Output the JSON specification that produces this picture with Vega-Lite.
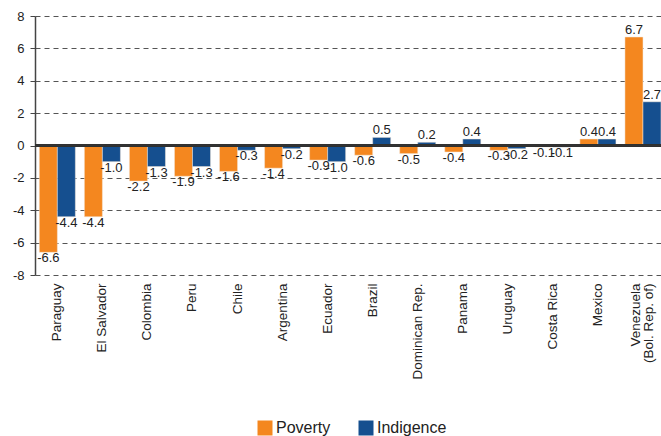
{
  "$schema": "https://vega.github.io/schema/vega-lite/v6.json",
  "width": 626,
  "height": 259,
  "autosize": "none",
  "padding": {"left": 35, "top": 16, "right": 0, "bottom": 161},
  "config": {
    "view": {"stroke": null},
    "font": "Liberation Sans",
    "locale": {"number": {"decimal": ".", "thousands": ",", "grouping": [3], "currency": ["$", ""], "minus": "-"}},
    "axis": {"labelFont": "Liberation Sans", "labelColor": "#222"}
  },
  "data": {
    "values": [
      {"country": "Paraguay", "series": "Poverty", "value": -6.6},
      {"country": "Paraguay", "series": "Indigence", "value": -4.4},
      {"country": "El Salvador", "series": "Poverty", "value": -4.4},
      {"country": "El Salvador", "series": "Indigence", "value": -1.0},
      {"country": "Colombia", "series": "Poverty", "value": -2.2},
      {"country": "Colombia", "series": "Indigence", "value": -1.3},
      {"country": "Peru", "series": "Poverty", "value": -1.9},
      {"country": "Peru", "series": "Indigence", "value": -1.3},
      {"country": "Chile", "series": "Poverty", "value": -1.6},
      {"country": "Chile", "series": "Indigence", "value": -0.3},
      {"country": "Argentina", "series": "Poverty", "value": -1.4},
      {"country": "Argentina", "series": "Indigence", "value": -0.2},
      {"country": "Ecuador", "series": "Poverty", "value": -0.9},
      {"country": "Ecuador", "series": "Indigence", "value": -1.0},
      {"country": "Brazil", "series": "Poverty", "value": -0.6},
      {"country": "Brazil", "series": "Indigence", "value": 0.5},
      {"country": "Dominican Rep.", "series": "Poverty", "value": -0.5},
      {"country": "Dominican Rep.", "series": "Indigence", "value": 0.2},
      {"country": "Panama", "series": "Poverty", "value": -0.4},
      {"country": "Panama", "series": "Indigence", "value": 0.4},
      {"country": "Uruguay", "series": "Poverty", "value": -0.3},
      {"country": "Uruguay", "series": "Indigence", "value": -0.2},
      {"country": "Costa Rica", "series": "Poverty", "value": -0.1},
      {"country": "Costa Rica", "series": "Indigence", "value": -0.1},
      {"country": "Mexico", "series": "Poverty", "value": 0.4},
      {"country": "Mexico", "series": "Indigence", "value": 0.4},
      {"country": "Venezuela (Bol. Rep. of)", "series": "Poverty", "value": 6.7},
      {"country": "Venezuela (Bol. Rep. of)", "series": "Indigence", "value": 2.7}
    ]
  },
  "encoding": {
    "x": {
      "field": "country", "type": "nominal", "sort": null,
      "scale": {"paddingInner": 0.2, "paddingOuter": 0.048, "align": 1},
      "axis": {
        "title": null, "domain": false, "ticks": false, "labelAngle": -90,
        "labelAlign": "right", "labelBaseline": "middle", "labelPadding": 8,
        "labelFontSize": 13.5, "labelLineHeight": 13,
        "labelOffset": {"condition": {"test": "datum.value == 'Venezuela (Bol. Rep. of)'", "value": -7}, "value": 0},
        "labelExpr": "datum.value == 'Venezuela (Bol. Rep. of)' ? ['Venezuela', '(Bol. Rep. of)'] : datum.value"
      }
    },
    "xOffset": {"field": "series", "type": "nominal", "sort": ["Poverty", "Indigence"]},
    "y": {
      "field": "value", "type": "quantitative",
      "scale": {"domain": [-8, 8], "nice": false},
      "axis": {
        "title": null, "values": [-8, -6, -4, -2, 0, 2, 4, 6, 8],
        "grid": true, "gridDash": [5, 4], "gridColor": "#555", "gridWidth": 1,
        "domainColor": "#444", "domainWidth": 1.5,
        "tickColor": "#444", "tickSize": 5, "labelPadding": 6, "labelFontSize": 13
      }
    }
  },
  "layer": [
    {
      "mark": {"type": "bar", "stroke": "#f3e6d8", "strokeWidth": 0.5},
      "encoding": {
        "color": {
          "field": "series", "type": "nominal",
          "scale": {"domain": ["Poverty", "Indigence"], "range": ["#F4871F", "#154F8F"]},
          "legend": {
            "title": null, "orient": "none", "direction": "horizontal",
            "legendX": 222, "legendY": 404,
            "symbolType": "square", "symbolSize": 225,
            "symbolStrokeWidth": 0, "symbolOpacity": 1,
            "labelFontSize": 16, "labelFont": "Liberation Sans", "labelColor": "#222",
            "labelOffset": 3, "columnPadding": 27
          }
        }
      }
    },
    {
      "mark": {"type": "rule", "color": "#333", "strokeWidth": 1.5},
      "encoding": {"y": {"datum": 0}, "x": null, "xOffset": null}
    },
    {
      "transform": [{"filter": "datum.value < 0"}],
      "mark": {"type": "text", "baseline": "top", "dy": 0, "fontSize": 13, "color": "#222"},
      "encoding": {"text": {"field": "value", "type": "quantitative", "format": ".1f"}}
    },
    {
      "transform": [{"filter": "datum.value >= 0"}],
      "mark": {"type": "text", "baseline": "bottom", "dy": 0, "fontSize": 13, "color": "#222"},
      "encoding": {"text": {"field": "value", "type": "quantitative", "format": ".1f"}}
    }
  ]
}
